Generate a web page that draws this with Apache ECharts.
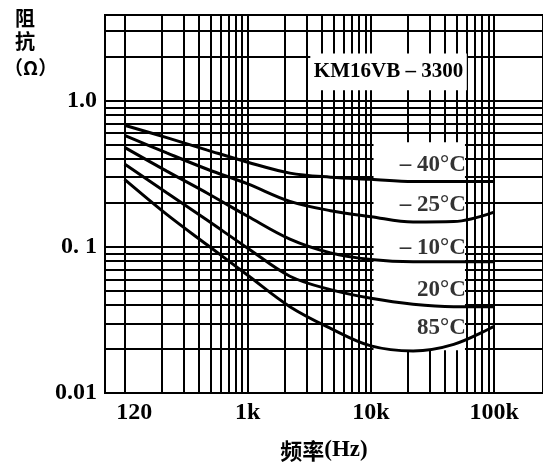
<!DOCTYPE html>
<html>
<head>
<meta charset="utf-8">
<script src="https://cdn.jsdelivr.net/npm/echarts@6/dist/echarts.min.js"></script>
<style>
html,body{margin:0;padding:0;background:#fff;}
#chart{width:543px;height:471px;}
</style>
</head>
<body>
<div id="chart"></div>
<script>
// ---- data ----
const freq = [100, 220, 470, 1000, 2200, 4700, 10000, 22000, 47000, 100000];
const zM40 = [0.68, 0.56, 0.46, 0.38, 0.32, 0.30, 0.29, 0.28, 0.28, 0.28];
const zM25 = [0.58, 0.44, 0.34, 0.27, 0.205, 0.177, 0.161, 0.148, 0.149, 0.173];
const zM10 = [0.48, 0.33, 0.233, 0.162, 0.113, 0.091, 0.082, 0.079, 0.079, 0.079];
const z20  = [0.37, 0.235, 0.152, 0.098, 0.063, 0.051, 0.0445, 0.0405, 0.039, 0.039];
const z85  = [0.29, 0.167, 0.103, 0.064, 0.039, 0.0277, 0.021, 0.0194, 0.0215, 0.0286];

const seriesNames = ['– 40°C', '– 25°C', '– 10°C', '20°C', '85°C'];
const seriesValues = [zM40, zM25, zM10, z20, z85];
// label anchor (right edge) frequency and impedance for each curve label
const labelFreq = 59000;
const labelZ = [0.362, 0.193, 0.0978, 0.0505, 0.0277];

const xTickValues = [120, 1000, 10000, 100000];
const xTickLabels = ['120', '1k', '10k', '100k'];
const yTickValues = [0.01, 0.1, 1];
const yTickLabels = ['0.01', '0. 1', '1.0'];

const xGridValues = [100,200,300,400,500,600,700,800,900,
  1000,2000,3000,4000,5000,6000,7000,8000,9000,
  10000,20000,30000,40000,50000,60000,70000,80000,90000,100000];
const yGridValues = [0.02,0.03,0.04,0.05,0.06,0.07,0.08,0.09,
  0.1,0.2,0.3,0.4,0.5,0.6,0.7,0.8,0.9,1,2,3];

const modelName = 'KM16VB – 3300';
const modelBox = [[3220, 2.11], [60000, 1.18]];
const labelColumn = [[10500, 0.52], [58000, 0.0196]];

const xMin = 69.4, xMax = 249400, yMin = 0.01, yMax = 3.867;

// ---- chart ----
const chart = echarts.init(document.getElementById('chart'), null, {renderer: 'canvas'});
const serif = 'Liberation Serif';
const cjk = 'Noto Sans CJK SC';

function pickLabel(v, vals, labels) {
  let best = 0, bd = Infinity;
  vals.forEach((t, i) => { const d = Math.abs(Math.log10(v) - Math.log10(t)); if (d < bd) { bd = d; best = i; } });
  return labels[best];
}

const gridLineStyle = {color: '#000', width: 2, type: 'solid'};

const series = [];
// grid lines
series.push({
  type: 'line', name: 'gridlines', data: [], z: 1, silent: true,
  markLine: {
    z: 1, silent: true, symbol: ['none', 'none'], animation: false,
    label: {show: false}, lineStyle: gridLineStyle,
    emphasis: {disabled: true},
    data: xGridValues.map(v => ({xAxis: v})).concat(yGridValues.map(v => ({yAxis: v})))
  }
});
// white label boxes
series.push({
  type: 'line', name: 'boxes', data: [], z: 2, silent: true,
  markArea: {
    z: 2, silent: true, animation: false,
    itemStyle: {color: '#fff', opacity: 1},
    emphasis: {disabled: true},
    data: [
      [{coord: modelBox[0], label: {show: true, position: 'inside', formatter: modelName,
         color: '#000', fontFamily: serif, fontWeight: 'bold', fontSize: 21}},
       {coord: modelBox[1]}],
      [{coord: labelColumn[0], label: {show: false}}, {coord: labelColumn[1]}]
    ]
  }
});
// curves
seriesValues.forEach((vals, i) => {
  series.push({
    type: 'line', name: seriesNames[i], z: 3,
    data: freq.map((f, j) => [f, vals[j]]),
    showSymbol: false, symbol: 'none', smooth: 0.35,
    lineStyle: {color: '#000', width: 3},
    animation: false
  });
});
// curve labels
series.push({
  type: 'scatter', name: 'labels', z: 4, silent: true,
  symbolSize: 0,
  data: labelZ.map((z, i) => ({value: [labelFreq, z], name: seriesNames[i]})),
  label: {show: true, position: 'left', distance: 0, formatter: p => p.name,
    color: '#000', fontFamily: serif, fontWeight: 'bold', fontSize: 23},
  animation: false
});

const option = {
  backgroundColor: '#fff',
  animation: false,
  grid: {left: 105, top: 15, right: -10, bottom: 78, show: true,
    borderColor: '#000', borderWidth: 2, backgroundColor: 'transparent'},
  xAxis: {
    type: 'log', logBase: 10, min: xMin, max: xMax,
    name: '{c|频率}{s|(Hz)}', nameLocation: 'middle', nameGap: 46,
    nameTextStyle: {rich: {
      c: {fontFamily: cjk, fontWeight: 'bold', fontSize: 22, color: '#000'},
      s: {fontFamily: serif, fontWeight: 'bold', fontSize: 23, color: '#000'}
    }},
    axisLine: {show: false}, axisTick: {show: false}, splitLine: {show: false},
    minorTick: {show: false}, minorSplitLine: {show: false},
    axisLabel: {customValues: xTickValues, margin: 8, color: '#000',
      fontFamily: serif, fontWeight: 'bold', fontSize: 24,
      formatter: v => pickLabel(v, xTickValues, xTickLabels)}
  },
  yAxis: {
    type: 'log', logBase: 10, min: yMin, max: yMax,
    axisLine: {show: false}, axisTick: {show: false}, splitLine: {show: false},
    minorTick: {show: false}, minorSplitLine: {show: false},
    axisLabel: {customValues: yTickValues, margin: 8, color: '#000',
      fontFamily: serif, fontWeight: 'bold', fontSize: 24,
      formatter: v => pickLabel(v, yTickValues, yTickLabels)}
  },
  graphic: [
    {type: 'text', left: 15, top: 8, style: {text: '阻', font: 'bold 20px "Noto Sans CJK SC"', fill: '#000'}},
    {type: 'text', left: 15, top: 31, style: {text: '抗', font: 'bold 20px "Noto Sans CJK SC"', fill: '#000'}},
    {type: 'text', left: 4, top: 58, style: {text: '（Ω）', font: 'bold 19px "Noto Sans CJK SC"', fill: '#000'}}
  ],
  series: series
};
chart.setOption(option);
</script>
</body>
</html>
